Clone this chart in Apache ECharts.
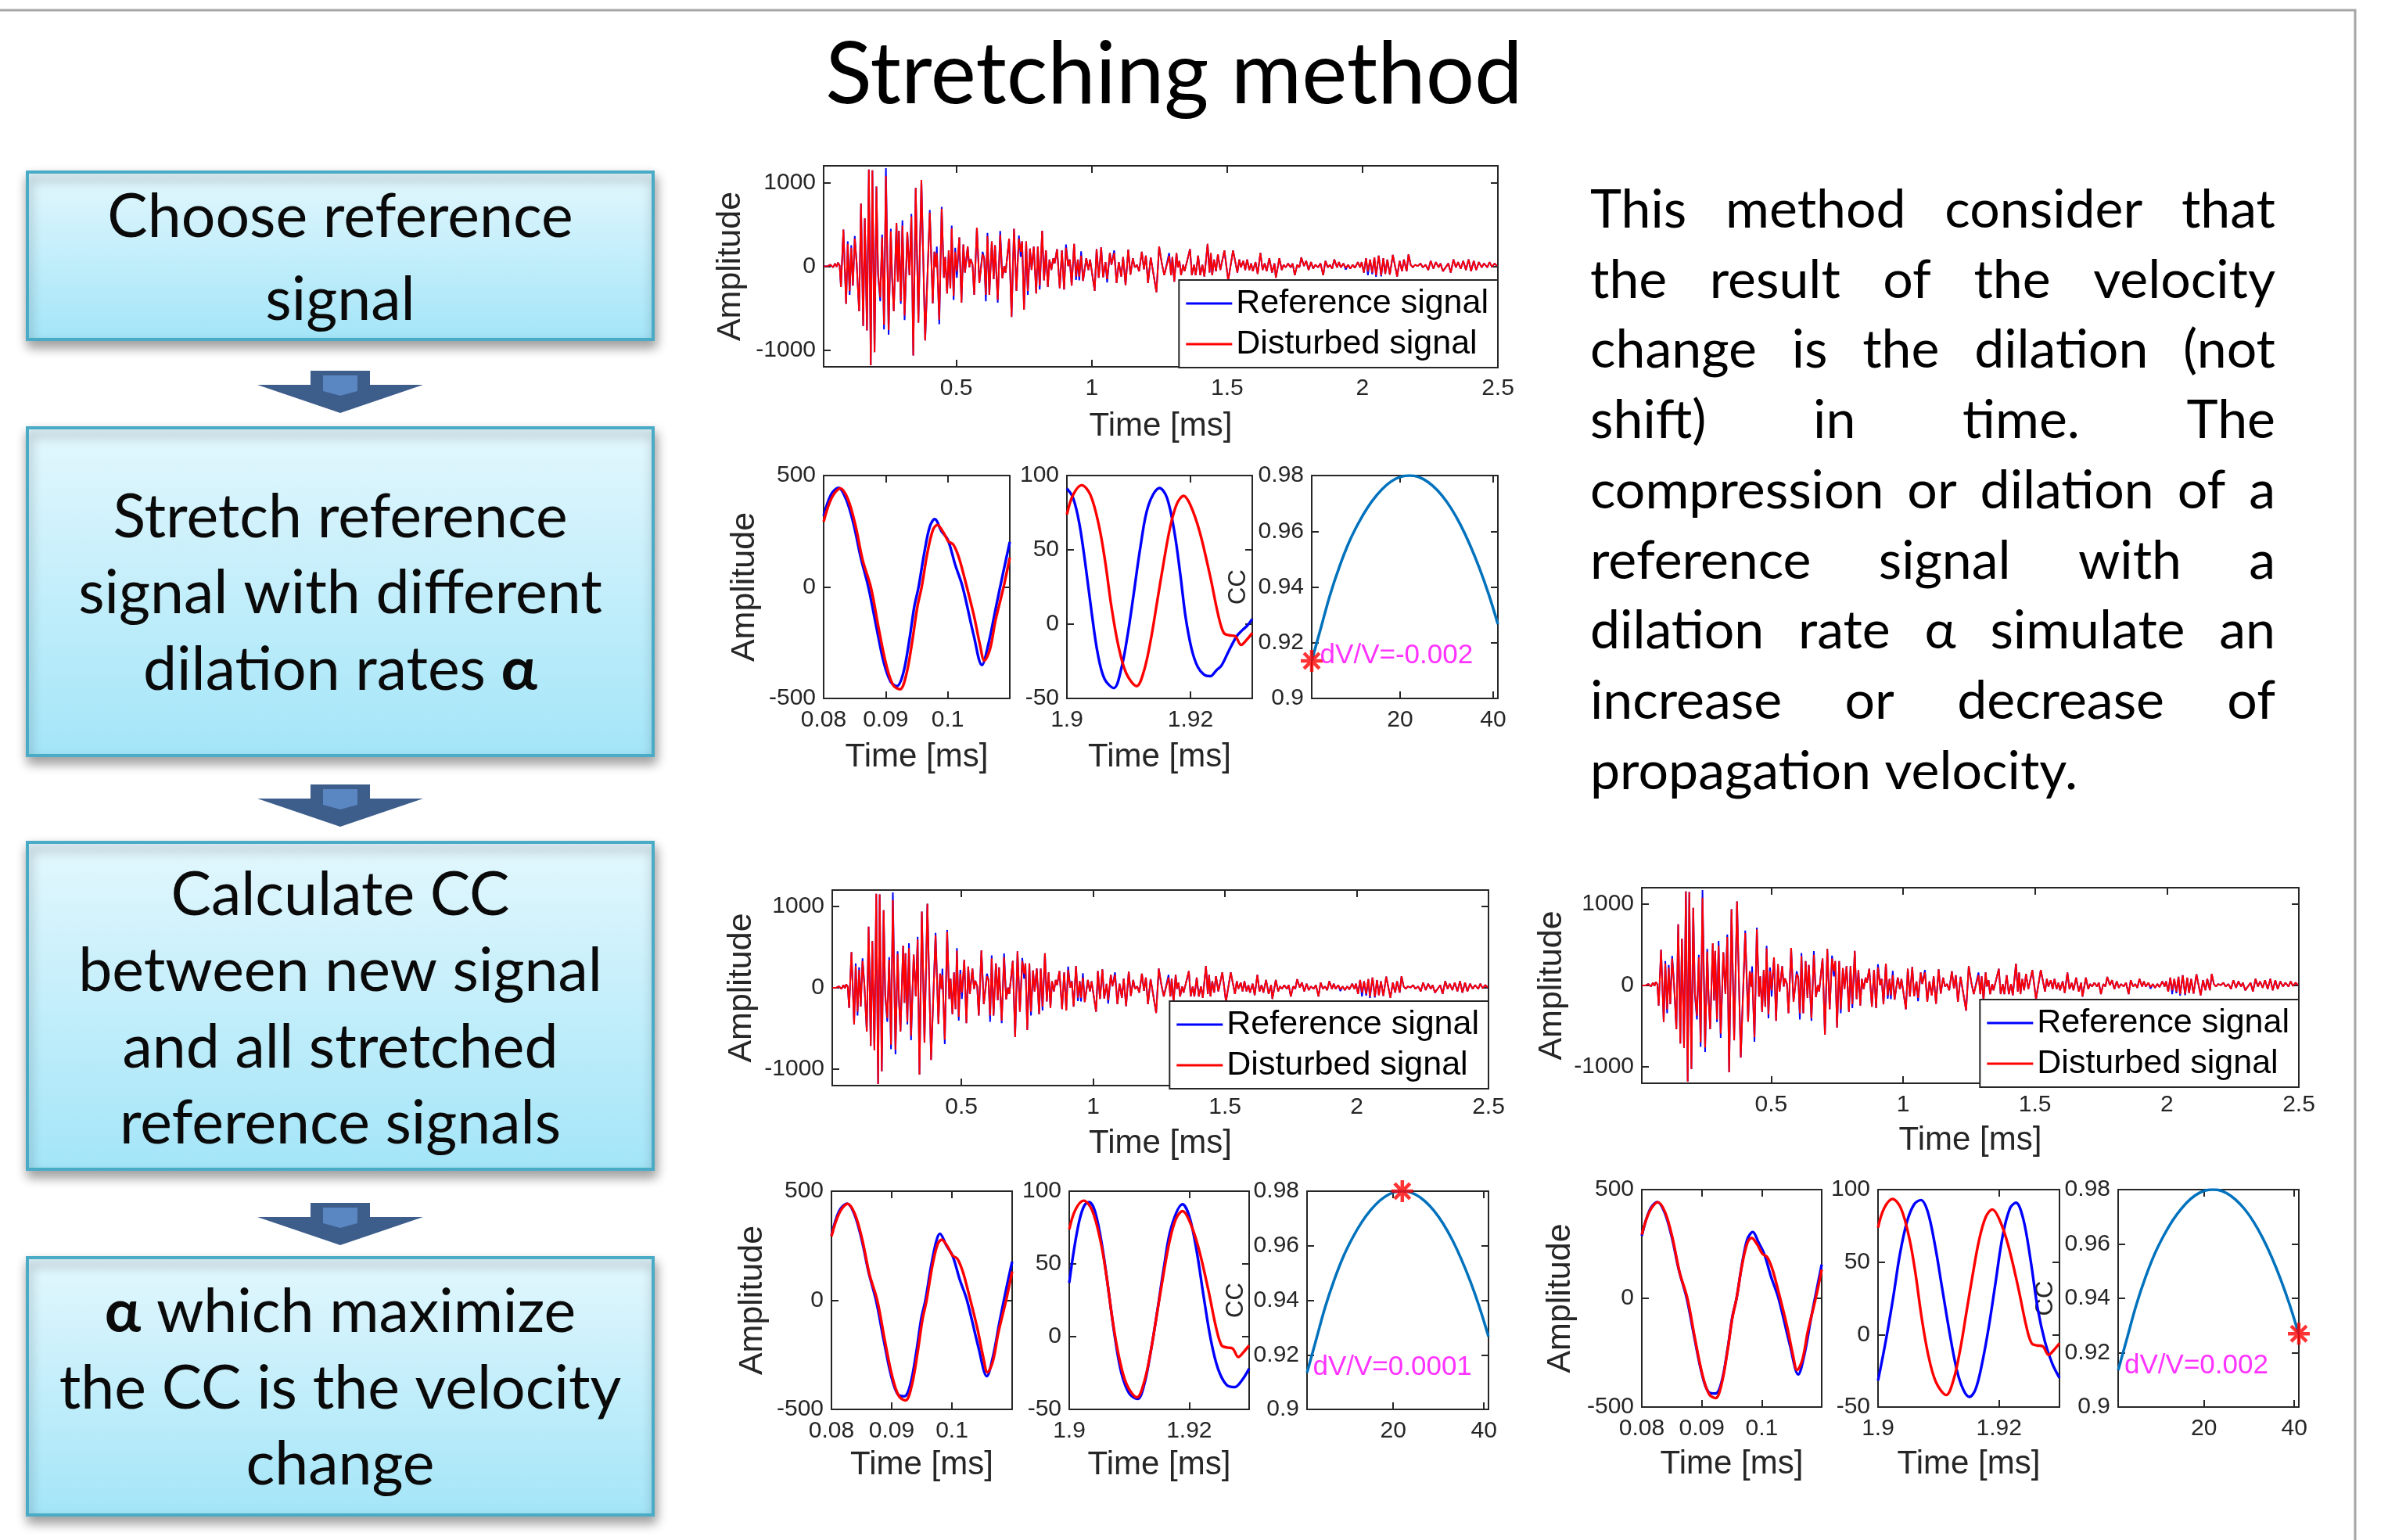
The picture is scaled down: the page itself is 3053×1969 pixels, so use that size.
<!DOCTYPE html>
<html>
<head>
<meta charset="utf-8">
<script src="https://cdn.jsdelivr.net/npm/echarts@6/dist/echarts.min.js"></script>
<style>
  html, body { margin: 0; background: #fff; }
  #main { width: 3053px; height: 1969px; }
</style>
</head>
<body>
<div id="main"></div>
<script>
// ---- data ----
const wideTime = [
  0.011,0.026,0.035,0.040,0.045,0.052,0.058,0.063,0.069,0.074,
  0.083,0.093,0.099,0.106,0.112,0.118,0.125,0.132,0.141,0.148,
  0.156,0.162,0.170,0.177,0.184,0.190,0.198,0.205,0.211,0.219,
  0.226,0.233,0.240,0.250,0.258,0.263,0.269,0.279,0.284,0.288,
  0.295,0.301,0.309,0.319,0.327,0.334,0.341,0.350,0.360,0.371,
  0.385,0.402,0.413,0.419,0.425,0.428,0.437,0.446,0.454,0.459,
  0.466,0.472,0.478,0.483,0.490,0.496,0.502,0.511,0.519,0.526,
  0.532,0.542,0.548,0.553,0.560,0.566,0.576,0.585,0.597,0.603,
  0.609,0.615,0.622,0.631,0.638,0.643,0.653,0.662,0.670,0.677,
  0.682,0.695,0.704,0.713,0.722,0.731,0.738,0.743,0.750,0.758,
  0.764,0.772,0.778,0.786,0.795,0.801,0.808,0.817,0.824,0.831,
  0.838,0.844,0.851,0.858,0.863,0.872,0.882,0.890,0.898,0.905,
  0.913,0.919,0.926,0.935,0.942,0.949,0.954,0.961,0.968,0.980,
  0.988,0.994,1.011,1.018,1.026,1.035,1.042,1.051,1.057,1.067,
  1.073,1.083,1.092,1.100,1.109,1.116,1.125,1.135,1.143,1.152,
  1.159,1.167,1.175,1.185,1.193,1.200,1.208,1.218,1.239,1.249,
  1.259,1.268,1.286,1.293,1.298,1.305,1.313,1.318,1.324,1.330,
  1.338,1.343,1.363,1.370,1.378,1.384,1.393,1.401,1.409,1.416,
  1.428,1.435,1.440,1.445,1.452,1.459,1.466,1.475,1.490,1.504,
  1.522,1.538,1.545,1.551,1.560,1.567,1.574,1.582,1.589,1.595,
  1.605,1.613,1.623,1.631,1.639,1.646,1.656,1.666,1.675,1.680,
  1.693,1.702,1.709,1.717,1.725,1.735,1.742,1.750,1.759,1.767,
  1.774,1.784,1.792,1.801,1.810,1.818,1.826,1.836,1.845,1.855,
  1.863,1.872,1.880,1.888,1.896,1.906,1.913,1.920,1.930,1.938,
  1.947,1.955,1.964,1.972,1.983,1.991,1.997,2.005,2.013,2.020,
  2.028,2.036,2.044,2.050,2.060,2.069,2.077,2.084,2.092,2.101,
  2.112,2.128,2.137,2.146,2.153,2.163,2.170,2.178,2.186,2.194,
  2.204,2.214,2.223,2.233,2.243,2.252,2.262,2.271,2.281,2.288,
  2.297,2.317,2.326,2.336,2.345,2.353,2.363,2.372,2.382,2.392,
  2.401,2.411,2.420,2.430,2.440,2.449,2.461,2.469,2.478,2.488,
  2.497
];
const wideRef = [
  0,3,19,25,-13,34,-6,43,12,-246,
  439,-449,299,-340,252,-231,361,34,-536,750,
  -713,573,-766,1155,-1181,1146,-1025,953,-106,-418,
  377,-754,1171,-816,448,-137,-536,517,-184,424,
  -449,548,-642,408,-106,626,-1065,937,-673,1031,
  -885,673,-443,174,-13,236,-692,710,-137,112,
  -324,190,-262,486,-402,221,-137,346,-433,261,
  -75,236,-13,87,18,-340,461,-200,174,96,
  -418,398,-340,299,-153,252,-433,423,-143,3,
  -75,330,-605,448,-293,367,112,299,-517,299,
  -340,212,-44,236,-324,236,-277,424,-168,190,
  -246,81,-44,96,34,205,-262,190,-277,261,
  3,81,-231,268,-162,81,-168,180,-174,96,
  -44,81,-293,205,-137,227,-131,50,-193,159,
  18,190,-200,50,-122,112,-225,199,-100,96,
  -13,18,-59,174,-37,127,-200,106,-309,236,
  34,-106,159,-106,112,-184,159,-13,65,-106,
  18,-59,205,-106,18,-106,127,-106,18,-122,
  268,-75,159,-106,81,-59,143,-44,190,-168,
  190,-75,81,-13,65,-44,81,-44,34,-59,
  50,-91,159,-44,34,-59,96,-75,34,-137,
  96,-44,18,-13,34,-13,34,-106,18,-13,
  106,3,65,-44,50,-28,18,-13,34,-106,
  65,-13,18,-28,81,-13,50,-13,34,-40,
  18,-28,18,-19,50,-13,50,-75,96,-106,
  81,-95,106,-125,127,-120,96,-91,81,-100,
  137,-122,65,-59,81,-59,143,18,-13,18,
  3,34,-13,18,-44,65,-28,50,-13,34,
  -59,34,-75,81,-13,50,-28,65,-44,81,
  -59,65,-44,50,-13,34,-13,50,-6,34,
  3
];
const wideDis = [
  0,3,19,25,-13,34,-6,43,12,-246,
  439,-449,268,-293,221,-231,330,34,-536,750,
  -713,573,-766,1155,-1181,1146,-1025,953,-75,-371,
  346,-698,1078,-760,417,-137,-536,517,-184,424,
  -418,486,-589,408,-106,595,-1065,937,-673,1031,
  -885,642,-443,174,-13,159,-636,688,-137,112,
  -324,190,-262,455,-355,174,-59,346,-433,261,
  -75,236,-13,87,18,-340,461,-200,143,96,
  -340,361,-340,299,-153,252,-402,377,-143,3,
  -75,330,-605,448,-293,330,174,299,-517,299,
  -293,212,-44,236,-324,236,-231,424,-168,190,
  -246,81,-44,96,34,205,-262,190,-277,221,
  3,81,-231,268,-122,81,-122,127,-174,96,
  -44,81,-293,205,-137,227,-131,50,-153,159,
  18,159,-200,50,-122,112,-225,199,-100,96,
  -13,18,-59,174,-37,127,-200,106,-309,236,
  34,-106,127,-106,112,-184,159,-13,65,-106,
  18,-59,205,-106,18,-106,127,-106,18,-122,
  268,-75,159,-106,81,-59,143,-44,190,-168,
  190,-75,81,-13,65,-44,81,-44,34,-59,
  50,-91,159,-44,34,-59,96,-75,34,-137,
  96,-44,18,-13,34,-13,34,-106,18,-13,
  106,3,65,-44,50,-28,18,-13,34,-106,
  65,-13,18,-28,81,-13,50,-13,34,-19,
  18,-28,18,-19,50,-13,50,-75,96,-59,
  81,-75,106,-106,127,-106,96,-91,81,-100,
  137,-122,65,-59,81,-59,143,18,-13,18,
  3,34,-13,18,-44,65,-28,50,-13,34,
  -59,34,-75,81,-13,50,-28,65,-44,81,
  -59,65,-44,50,-13,34,-13,50,-6,34,
  3
];

// early window, 0.08 - 0.11 ms
const win1Dis = [[0.0800,293],[0.0813,400],[0.0827,442],[0.0839,395],[0.0851,280],[0.0863,120],[0.0876,0],[0.0889,-190],[0.0901,-350],[0.0912,-440],[0.0923,-459],[0.0933,-395],[0.0943,-240],[0.0951,-90],[0.0958,0],[0.0967,150],[0.0976,255],[0.0983,278],[0.0993,245],[0.1001,205],[0.1009,190],[0.1017,140],[0.1024,73],[0.1042,-126],[0.1052,-260],[0.1059,-330],[0.1068,-280],[0.1077,-150],[0.1090,0],[0.1100,132]];
const win1RefA = [[0.0800,319],[0.0812,415],[0.0824,445],[0.0836,395],[0.0848,285],[0.0860,130],[0.0872,0],[0.0885,-180],[0.0897,-340],[0.0908,-425],[0.0918,-445],[0.0928,-390],[0.0938,-240],[0.0946,-90],[0.0953,0],[0.0962,150],[0.0971,270],[0.0979,305],[0.0990,250],[0.1000,213],[0.1012,100],[0.1024,0],[0.1042,-219],[0.1055,-350],[0.1066,-250],[0.1077,-100],[0.1089,60],[0.1100,202]];
const win1RefB = [[0.0800,296],[0.0813,410],[0.0826,443],[0.0838,395],[0.0850,280],[0.0862,125],[0.0874,0],[0.0887,-185],[0.0899,-345],[0.0910,-430],[0.0921,-440],[0.0931,-385],[0.0941,-235],[0.0949,-85],[0.0956,0],[0.0965,150],[0.0974,270],[0.0980,305],[0.0991,250],[0.1001,205],[0.1013,95],[0.1025,0],[0.1044,-215],[0.1058,-348],[0.1068,-260],[0.1079,-100],[0.1090,50],[0.1100,177]];
const win1RefC = [[0.0800,287],[0.0813,405],[0.0826,443],[0.0838,395],[0.0850,282],[0.0862,128],[0.0875,0],[0.0888,-185],[0.0900,-345],[0.0911,-430],[0.0923,-438],[0.0933,-385],[0.0943,-235],[0.0951,-85],[0.0958,0],[0.0967,155],[0.0976,272],[0.0985,305],[0.0995,255],[0.1004,205],[0.1016,95],[0.1028,0],[0.1047,-215],[0.1061,-350],[0.1071,-260],[0.1082,-95],[0.1092,45],[0.1100,155]];

// late window, 1.90 - 1.93 ms
const win2Dis = [[1.9000,73.7],[1.9010,87],[1.9024,93.5],[1.9038,87],[1.9052,66],[1.9062,42],[1.9072,12],[1.9083,-14],[1.9096,-33],[1.9113,-41.7],[1.9125,-31],[1.9136,-10],[1.9146,15],[1.9156,40],[1.9167,65],[1.9178,81],[1.9189,86.3],[1.9200,80],[1.9215,62],[1.9232,32],[1.9245,6],[1.9254,-6],[1.9263,-7.5],[1.9272,-8],[1.9282,-14],[1.9290,-11],[1.9300,-6]];
const win2RefA = [[1.9000,91.2],[1.9010,85],[1.9020,68],[1.9030,40],[1.9040,8],[1.9050,-20],[1.9061,-37],[1.9076,-43],[1.9088,-30],[1.9098,-8],[1.9108,20],[1.9119,52],[1.9132,80],[1.9150,91.6],[1.9162,85],[1.9174,62],[1.9184,32],[1.9192,5],[1.9202,-17],[1.9212,-29],[1.9222,-34],[1.9232,-35],[1.9242,-31],[1.9250,-28],[1.9262,-18],[1.9275,-8],[1.9284,-4],[1.9292,-1],[1.9300,3.5]];
const win2RefB = [[1.9000,37],[1.9008,60],[1.9017,80],[1.9025,90],[1.9033,92.5],[1.9043,86],[1.9055,62],[1.9066,30],[1.9076,0],[1.9087,-25],[1.9100,-39],[1.9114,-42.8],[1.9125,-33],[1.9136,-10],[1.9147,18],[1.9158,48],[1.9170,75],[1.9189,91],[1.9200,83],[1.9212,60],[1.9224,28],[1.9236,-2],[1.9248,-22],[1.9262,-33],[1.9276,-34.7],[1.9288,-30],[1.9300,-22]];
const win2RefC = [[1.9000,-31.7],[1.9008,-15],[1.9016,3],[1.9026,28],[1.9036,55],[1.9048,78],[1.9060,90],[1.9071,92.8],[1.9082,85],[1.9094,62],[1.9106,32],[1.9118,2],[1.9130,-24],[1.9141,-38],[1.9151,-43],[1.9161,-38],[1.9172,-20],[1.9183,5],[1.9194,35],[1.9206,68],[1.9218,87],[1.9228,91],[1.9240,80],[1.9252,52],[1.9264,18],[1.9276,-5],[1.9288,-20],[1.9300,-29.9]];

// correlation coefficient vs stretching index
const ccIndex = [1,3,5,7,9,11,13,15,17,19,21,22,23,25,27,29,31,33,35,37,39,41];
const ccValue = [0.9135,0.9255,0.9375,0.9475,0.9560,0.9628,0.9685,0.9730,0.9765,0.9788,0.9799,0.9800,0.9799,0.9787,0.9763,0.9728,0.9681,0.9622,0.9551,0.9469,0.9375,0.9267];

const wideXTicks = [0.5, 1, 1.5, 2, 2.5];
const wideYTicks = [-1000, 0, 1000];
const win1XTicks = [0.08, 0.09, 0.1];
const win1YTicks = [-500, 0, 500];
const win2XTicks = [1.9, 1.92];
const win2YTicks = [-50, 0, 50, 100];
const ccXTicks = [20, 40];
const ccYTicks = [0.9, 0.92, 0.94, 0.96, 0.98];

const dvvLabels = ['dV/V=-0.002', 'dV/V=0.0001', 'dV/V=0.002'];
const bestPoints = [[1, 0.9135], [22, 0.98], [41, 0.927]];

const boxTexts = [
  ['Choose reference', 'signal'],
  ['Stretch reference', 'signal with different', 'dilation rates {b|α}'],
  ['Calculate CC', 'between new signal', 'and all stretched', 'reference signals'],
  ['{b|α} which maximize', 'the CC is the velocity', 'change']
];
const paraLines = [
  'This method consider that',
  'the result of the velocity',
  'change is the dilation (not',
  'shift) in time. The',
  'compression or dilation of a',
  'reference signal with a',
  'dilation rate α simulate an',
  'increase or decrease of',
  'propagation velocity.'
];

// ---- layout ----
const W = 3053, H = 1969;
const INK = '#262626';
const AX_FONT = '"Liberation Sans", Arial, sans-serif';
const SLIDE_FONT = 'Lato, "Open Sans", sans-serif';

const layout = [
  { wide: { x: 1053, y: 212, w: 862, h: 257, xGap: 76, yGap: 119 }, legendTop: 358,
    sy: 608, sh: 285, p: [[1053, 238], [1364, 237], [1677, 238]], tGap: 75, aGap: 101, cGap: 94,
    ref1: win1RefA, ref2: win2RefA, textAt: [2.7, 0.9154] },
  { wide: { x: 1064, y: 1138, w: 839, h: 250, xGap: 74, yGap: 116 }, legendTop: 1280,
    sy: 1523, sh: 279, p: [[1063, 231], [1367, 230], [1671, 232]], tGap: 71, aGap: 101, cGap: 91,
    ref1: win1RefB, ref2: win2RefB, textAt: [2.2, 0.9153] },
  { wide: { x: 2099, y: 1135, w: 840, h: 250, xGap: 73, yGap: 115 }, legendTop: 1278,
    sy: 1521, sh: 278, p: [[2099, 230], [2401, 232], [2708, 231]], tGap: 73, aGap: 104, cGap: 93,
    ref1: win1RefC, ref2: win2RefC, textAt: [2.3, 0.9152] }
];

const grids = [], xAxes = [], yAxes = [], series = [], legends = [];
const fmt = v => String(+(+v).toFixed(4));

function addPanel(o) {
  const g = grids.length;
  grids.push({ left: o.x, top: o.y, width: o.w, height: o.h, show: false, outerBoundsMode: 'none' });
  const line = { show: true, onZero: false, lineStyle: { color: INK, width: 2 } };
  const ticks = v => ({ show: true, inside: true, length: 9, customValues: v, lineStyle: { color: INK, width: 2 } });
  const label = (v, m) => ({ show: true, customValues: v, margin: m, fontSize: 30, color: INK, fontFamily: AX_FONT, formatter: fmt });
  const nameStyle = s => ({ fontSize: s, color: INK, fontFamily: AX_FONT, align: 'center', verticalAlign: 'middle' });
  const base = { type: 'value', gridIndex: g, splitLine: { show: false }, axisLine: line };
  xAxes.push(Object.assign({}, base, { position: 'bottom', min: o.xr[0], max: o.xr[1], axisTick: ticks(o.xt),
    axisLabel: label(o.xl, 13), name: o.xName || '', nameLocation: 'middle', nameGap: o.xGap || 0, nameTextStyle: nameStyle(42) }));
  xAxes.push(Object.assign({}, base, { position: 'top', min: o.xr[0], max: o.xr[1], axisTick: ticks(o.xt), axisLabel: { show: false } }));
  yAxes.push(Object.assign({}, base, { position: 'left', min: o.yr[0], max: o.yr[1], axisTick: ticks(o.yt),
    axisLabel: label(o.yl, 10), name: o.yName || '', nameLocation: 'middle', nameRotate: 90, nameGap: o.yGap || 0,
    nameTextStyle: nameStyle(o.yNameSize || 43) }));
  yAxes.push(Object.assign({}, base, { position: 'right', min: o.yr[0], max: o.yr[1], axisTick: ticks(o.yt), axisLabel: { show: false } }));
  return 2 * g;
}

function line(idx, data, color, width, name) {
  return { type: 'line', name: name, xAxisIndex: idx, yAxisIndex: idx, data: data, showSymbol: false, symbol: 'none',
    lineStyle: { color: color, width: width }, itemStyle: { color: color }, silent: true, z: 3, emphasis: { disabled: true } };
}

// MATLAB-like '*' marker: four crossed bars
function starPath() {
  let d = '';
  for (let k = 0; k < 4; k++) {
    const a = k * Math.PI / 4, c = Math.cos(a), s = Math.sin(a);
    const pts = [[-10, -1.6], [10, -1.6], [10, 1.6], [-10, 1.6]].map(([u, v]) => (u * c - v * s).toFixed(2) + ',' + (u * s + v * c).toFixed(2));
    d += 'M' + pts.join('L') + 'Z';
  }
  return 'path://' + d;
}

const widePairsRef = wideTime.map((t, i) => [t, wideRef[i]]);
const widePairsDis = wideTime.map((t, i) => [t, wideDis[i]]);
const ccPairs = ccIndex.map((a, i) => [a, ccValue[i]]);

layout.forEach((L, gi) => {
  const wd = L.wide;
  const iw = addPanel({ x: wd.x, y: wd.y, w: wd.w, h: wd.h, xr: [0.01, 2.5], yr: [-1200, 1200],
    xt: wideXTicks, xl: wideXTicks, yt: wideYTicks, yl: wideYTicks,
    xName: 'Time [ms]', xGap: wd.xGap, yName: 'Amplitude', yGap: wd.yGap });
  series.push(line(iw, widePairsRef, '#0000ff', 2, 'Reference signal'));
  series.push(line(iw, widePairsDis, '#ff0000', 2, 'Disturbed signal'));
  legends.push({ data: ['Reference signal', 'Disturbed signal'], orient: 'vertical', right: W - wd.x - wd.w, top: L.legendTop,
    icon: 'rect', itemWidth: 59, itemHeight: 3, itemGap: 6, padding: [7, 12, 7, 9], selectedMode: false,
    backgroundColor: '#fff', borderColor: INK, borderWidth: 2, borderRadius: 0,
    textStyle: { fontSize: 43, lineHeight: 46, fontFamily: AX_FONT, color: '#000' } });

  const [p1, p2, p3] = L.p;
  const i1 = addPanel({ x: p1[0], y: L.sy, w: p1[1], h: L.sh, xr: [0.08, 0.11], yr: [-500, 500],
    xt: win1XTicks, xl: win1XTicks, yt: win1YTicks, yl: win1YTicks,
    xName: 'Time [ms]', xGap: L.tGap, yName: 'Amplitude', yGap: L.aGap });
  series.push(Object.assign(line(i1, L.ref1, '#0000ff', 3.4, 'Reference signal'), { smooth: 0.35 }));
  series.push(Object.assign(line(i1, win1Dis, '#ff0000', 3.4, 'Disturbed signal'), { smooth: 0.35 }));

  const i2 = addPanel({ x: p2[0], y: L.sy, w: p2[1], h: L.sh, xr: [1.9, 1.93], yr: [-50, 100],
    xt: win2XTicks, xl: win2XTicks, yt: win2YTicks, yl: win2YTicks,
    xName: 'Time [ms]', xGap: L.tGap });
  series.push(Object.assign(line(i2, L.ref2, '#0000ff', 3.4, 'Reference signal'), { smooth: 0.35 }));
  series.push(Object.assign(line(i2, win2Dis, '#ff0000', 3.4, 'Disturbed signal'), { smooth: 0.35 }));

  const i3 = addPanel({ x: p3[0], y: L.sy, w: p3[1], h: L.sh, xr: [1, 41], yr: [0.9, 0.98],
    xt: ccXTicks, xl: ccXTicks, yt: ccYTicks, yl: ccYTicks,
    yName: 'CC', yGap: L.cGap, yNameSize: 31 });
  series.push(Object.assign(line(i3, ccPairs, '#0072bd', 3.5, 'CC'), { smooth: 0.4 }));
  series.push({ type: 'scatter', xAxisIndex: i3, yAxisIndex: i3, data: [bestPoints[gi]], symbol: starPath(), symbolSize: 28,
    itemStyle: { color: '#ff0000' }, silent: true, z: 5, clip: false });
  series.push({ type: 'scatter', xAxisIndex: i3, yAxisIndex: i3, data: [L.textAt], symbolSize: 1,
    itemStyle: { color: 'rgba(0,0,0,0)' }, silent: true, z: 6,
    label: { show: true, position: 'right', distance: 0, formatter: dvvLabels[gi], color: '#ff00ff', fontSize: 35, fontFamily: AX_FONT } });
});

// ---- slide graphics ----
const graphics = [];
graphics.push({ type: 'polyline', shape: { points: [[0, 13], [3011, 13], [3011, H]] }, style: { stroke: '#a6a6a6', lineWidth: 3, fill: null } });
graphics.push({ type: 'text', x: 1501, y: 97, style: { text: 'Stretching method', fontSize: 110, fontFamily: SLIDE_FONT, fill: '#000', align: 'center', verticalAlign: 'middle' } });

const boxes = [[220, 214], [547, 419], [1077, 418], [1608, 329]];
const boxLineY = [[278, 384], [662, 759, 857], [1145, 1242, 1340, 1437], [1678, 1776, 1873]];
const BOX_SIZE = 77;
boxes.forEach(([top, h], i) => {
  graphics.push({ type: 'rect', shape: { x: 35, y: top, width: 800, height: h },
    style: { fill: new echarts.graphic.LinearGradient(0, 0, 0, 1, [{ offset: 0, color: '#e3f7fd' }, { offset: 1, color: '#a3e5f8' }]),
      stroke: '#4aabc6', lineWidth: 4, shadowBlur: 14, shadowOffsetX: 2, shadowOffsetY: 8, shadowColor: 'rgba(0,0,0,0.38)' } });
  boxTexts[i].forEach((t, k) => {
    graphics.push({ type: 'text', x: 435, y: boxLineY[i][k], z: 10,
      style: { text: t, fontSize: BOX_SIZE, fontFamily: SLIDE_FONT, fill: '#0a0a0a', align: 'center', verticalAlign: 'middle',
        rich: { b: { fontSize: BOX_SIZE, fontFamily: SLIDE_FONT, fontWeight: 'bold', fill: '#0a0a0a' } } } });
  });
});

[474, 1003, 1538].forEach(top => {
  const cx = 435;
  graphics.push({ type: 'polygon', shape: { points: [[cx - 38, top], [cx + 38, top], [cx + 38, top + 18], [cx + 106, top + 18], [cx, top + 54], [cx - 106, top + 18], [cx - 38, top + 18]] },
    style: { fill: '#3d5d8b' } });
  graphics.push({ type: 'polygon', shape: { points: [[cx - 22, top + 6], [cx + 22, top + 6], [cx + 22, top + 26], [cx, top + 32], [cx - 22, top + 26]] },
    style: { fill: '#5a86c2' } });
});

// justified paragraph on the right
const PARA_SIZE = 68, PARA_LEFT = 2033, PARA_RIGHT = 2909, PARA_TOP = 269, PARA_STEP = 89.75;
const measure = document.createElement('canvas').getContext('2d');
measure.font = PARA_SIZE + 'px Lato';
paraLines.forEach((ln, i) => {
  const words = ln.split(' ');
  const widths = words.map(w => measure.measureText(w).width);
  const total = widths.reduce((a, b) => a + b, 0);
  const last = i === paraLines.length - 1;
  const gap = last ? measure.measureText(' ').width : (PARA_RIGHT - PARA_LEFT - total) / (words.length - 1);
  let x = PARA_LEFT;
  words.forEach((w, k) => {
    graphics.push({ type: 'text', x: x, y: PARA_TOP + i * PARA_STEP,
      style: { text: w, fontSize: PARA_SIZE, fontFamily: SLIDE_FONT, fill: '#000', align: 'left', verticalAlign: 'middle' } });
    x += widths[k] + gap;
  });
});

const chart = echarts.init(document.getElementById('main'), null, { renderer: 'canvas' });
chart.setOption({
  animation: false,
  backgroundColor: '#fff',
  grid: grids,
  xAxis: xAxes,
  yAxis: yAxes,
  legend: legends,
  series: series,
  graphic: { elements: graphics }
});
</script>
</body>
</html>
